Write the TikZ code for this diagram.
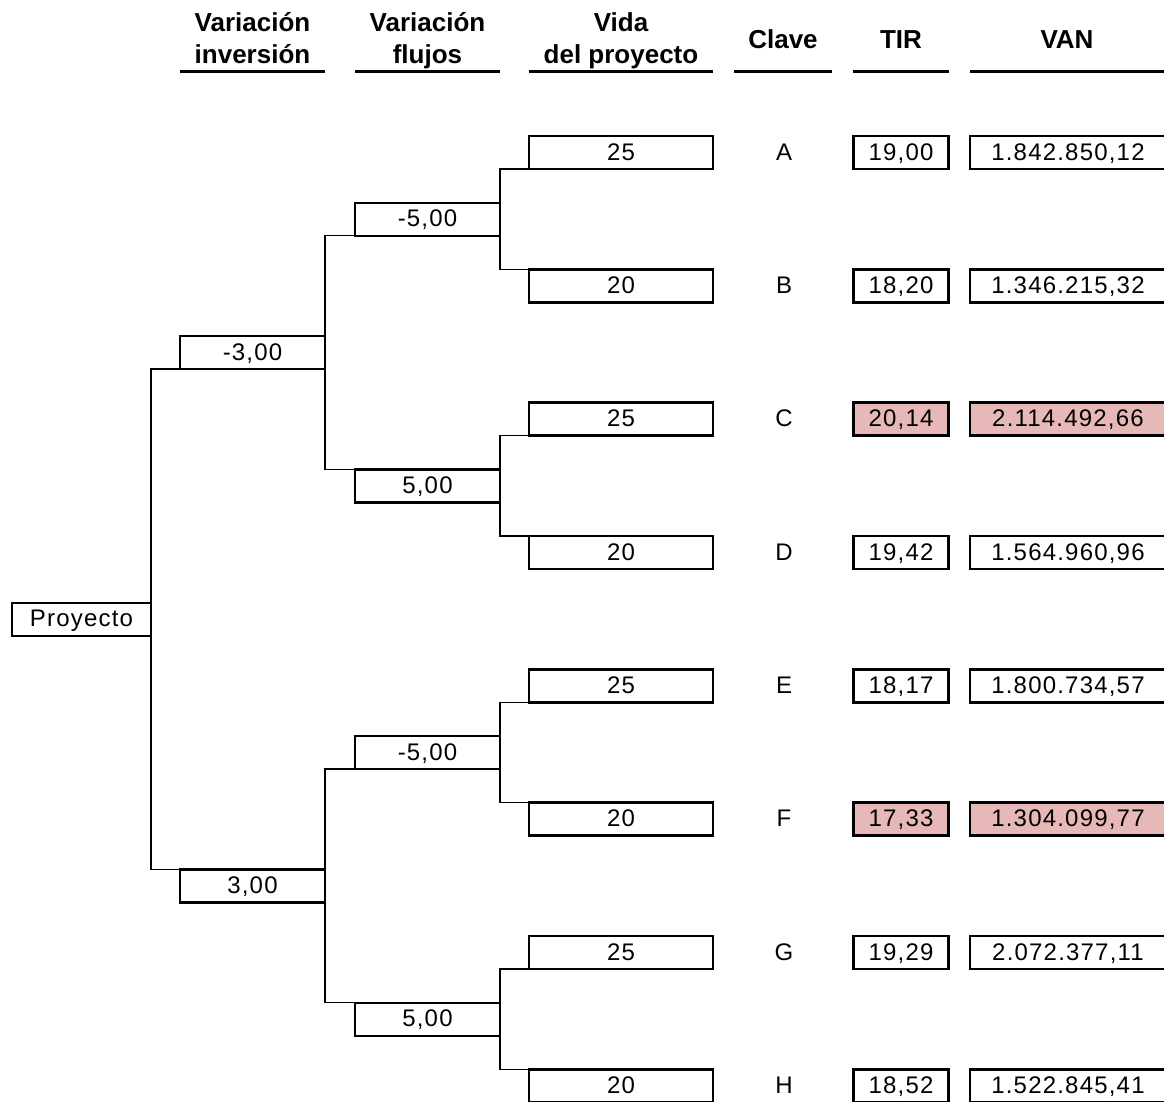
\documentclass[tikz,border=0pt]{standalone}
\usepackage{fontspec}
\setmainfont{Liberation Sans}
\newfontfamily\bodyf{Liberation Sans}[LetterSpace=5]
\definecolor{pinkfill}{RGB}{230,184,183}
\begin{document}
\begin{tikzpicture}[x=1pt,y=-1pt,
  box/.style={draw,line width=2.4pt,inner sep=0pt,outer sep=0pt,minimum height=33pt,
    text height=16pt,text depth=1pt,font=\bodyf\fontsize{24}{28}\selectfont},
  w0/.style={minimum width=139pt},
  w1/.style={minimum width=145pt},
  w3/.style={minimum width=184pt},
  wt/.style={minimum width=95pt},
  wv/.style={minimum width=196pt},
  hl/.style={fill=pinkfill},
  nohl/.style={},
  key/.style={inner sep=0pt,text height=16pt,text depth=1pt,font=\bodyf\fontsize{24}{28}\selectfont},
  conn/.style={line width=1.2pt},
  head/.style={anchor=base,inner sep=0pt,font=\fontsize{26}{31}\selectfont\bfseries},
  uline/.style={line width=3pt}
]
\useasboundingbox (0,0) rectangle (1164,1101);

% headers
\node[head] (h1a) at (252.5,31.7) {Variación};
\node[head] (h1b) at (252.5,63.3) {inversión};
\node[head] (h2a) at (427.5,31.7) {Variación};
\node[head] (h2b) at (427.5,63.3) {flujos};
\node[head] (h3a) at (621,31.7) {Vida};
\node[head] (h3b) at (621,63.3) {del proyecto};
\node[head] (h4) at (783,48.3) {Clave};
\node[head] (h5) at (901,48.3) {TIR};
\node[head] (h6) at (1067,48.3) {VAN};
\draw[uline] (180,71) -- (325,71);
\draw[uline] (355,71) -- (500,71);
\draw[uline] (529,71) -- (713,71);
\draw[uline] (734,71) -- (832,71);
\draw[uline] (853,71) -- (949,71);
\draw[uline] (970,71) -- (1166,71);

% tree
\node[box,w0] (p) at (81.5,619.2) {Proyecto};
\node[box,w1] (a1) at (252.5,352.5) {-3,00};
\node[box,w1] (a2) at (252.5,885.8) {3,00};
\node[box,w1] (b1) at (427.5,219.2) {-5,00};
\node[box,w1] (b2) at (427.5,485.8) {5,00};
\node[box,w1] (b3) at (427.5,752.5) {-5,00};
\node[box,w1] (b4) at (427.5,1019.2) {5,00};

\foreach \i/\v/\k/\t/\n/\h in {
  1/25/A/{19,00}/{1.842.850,12}/nohl,
  2/20/B/{18,20}/{1.346.215,32}/nohl,
  3/25/C/{20,14}/{2.114.492,66}/hl,
  4/20/D/{19,42}/{1.564.960,96}/nohl,
  5/25/E/{18,17}/{1.800.734,57}/nohl,
  6/20/F/{17,33}/{1.304.099,77}/hl,
  7/25/G/{19,29}/{2.072.377,11}/nohl,
  8/20/H/{18,52}/{1.522.845,41}/nohl}{
  \pgfmathsetmacro{\yy}{152.5+133.333*(\i-1)}
  \node[box,w3] (c\i) at (621,\yy) {\v};
  \node[key] (k\i) at (784,\yy) {\k};
  \node[box,wt,\h] (t\i) at (901,\yy) {\t};
  \node[box,wv,\h] (v\i) at (1068,\yy) {\n};
}

\draw[conn] (a1.south west) -| (p.east) |- (a2.north west);
\draw[conn] (b1.south west) -| (a1.east) |- (b2.north west);
\draw[conn] (b3.south west) -| (a2.east) |- (b4.north west);
\draw[conn] (c1.south west) -| (b1.east) |- (c2.north west);
\draw[conn] (c3.south west) -| (b2.east) |- (c4.north west);
\draw[conn] (c5.south west) -| (b3.east) |- (c6.north west);
\draw[conn] (c7.south west) -| (b4.east) |- (c8.north west);
\end{tikzpicture}
\end{document}
